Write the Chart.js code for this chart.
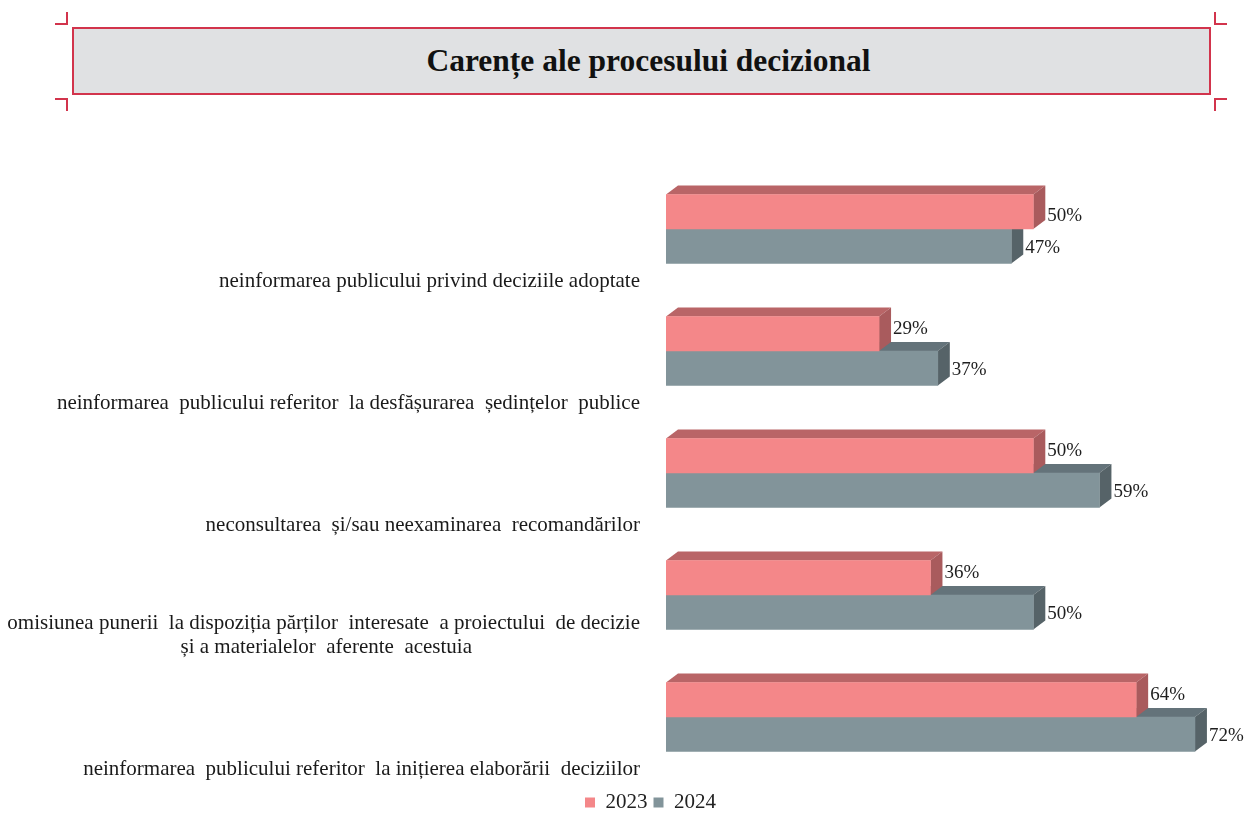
<!DOCTYPE html>
<html>
<head>
	<meta charset="UTF-8" />
	<script src="https://cdn.jsdelivr.net/npm/chart.js@4.4.0/dist/chart.umd.min.js"></script>
	<style>
		body { margin: 0; background: #ffffff; }
		#wrap { position: relative; width: 1246px; height: 836px; }
		#myChart { position: absolute; left: 0; top: 0; }
		#titleBox {
			position: absolute; left: 72px; top: 27px; width: 1139px; height: 68px;
			box-sizing: border-box; background: #e0e1e3; border: 2px solid #d2344c;
			display: flex; align-items: center; justify-content: center; padding-left: 14px;
			font: bold 31.5px "Liberation Serif", serif; color: #111;
		}
		.mark { position: absolute; width: 13px; height: 13px; border: 0 solid #d2344c; box-sizing: border-box; }
	</style>
</head>
<body>
	<div id="wrap">
		<canvas id="myChart" width="1246" height="836"></canvas>
		<div id="titleBox">Carențe ale procesului decizional</div>
		<div class="mark" style="left:55px; top:12px; border-right-width:2px; border-bottom-width:2px;"></div>
		<div class="mark" style="left:55px; top:98px; border-right-width:2px; border-top-width:2px;"></div>
		<div class="mark" style="left:1214px; top:12px; border-left-width:2px; border-bottom-width:2px;"></div>
		<div class="mark" style="left:1214px; top:98px; border-left-width:2px; border-top-width:2px;"></div>
	</div>
	<script>
const categories = [
	"neinformarea publicului privind deciziile adoptate",
	"neinformarea  publicului referitor  la desfășurarea  ședințelor  publice",
	"neconsultarea  și/sau neexaminarea  recomandărilor",
	["omisiunea punerii  la dispoziția părților  interesate  a proiectului  de decizie", "și a materialelor  aferente  acestuia"],
	"neinformarea  publicului referitor  la inițierea elaborării  deciziilor"
];
const seriesNames = ["2023", "2024"];
const values2023 = [50, 29, 50, 36, 64];
const values2024 = [47, 37, 59, 50, 72];

const TICK_FONT = '21px "Liberation Serif"';
const DX = 12, DY = 9;

// centre the second line under the first one (labels are right aligned)
const mctx = document.createElement("canvas").getContext("2d");
mctx.font = TICK_FONT;
const tickLabels = categories.map(c => {
	if (!Array.isArray(c)) return c;
	const gap = (mctx.measureText(c[0]).width - mctx.measureText(c[1]).width) / 2;
	const sp = mctx.measureText(" ").width;
	return [c[0], c[1] + " ".repeat(Math.round(gap / sp)), ""];
});

const bar3d = {
	id: "bar3d",
	afterLayout(chart) {
		// legend sits a little right of the canvas centre in the original
		const lg = chart.legend;
		lg.left += 31; lg.right += 31;
		lg.top += 8; lg.bottom += 8;
	},
	beforeDatasetDraw(chart, args) {
		const ctx = chart.ctx;
		const ds = chart.data.datasets[args.index];
		ctx.save();
		args.meta.data.forEach(el => {
			const { x, y, base, height } = el.getProps(["x", "y", "base", "height"], true);
			const top = y - height / 2, bottom = y + height / 2;
			ctx.fillStyle = ds.topColor;
			ctx.beginPath();
			ctx.moveTo(base, top);
			ctx.lineTo(base + DX, top - DY);
			ctx.lineTo(x + DX, top - DY);
			ctx.lineTo(x, top);
			ctx.closePath();
			ctx.fill();
			ctx.fillStyle = ds.sideColor;
			ctx.beginPath();
			ctx.moveTo(x, top);
			ctx.lineTo(x + DX, top - DY);
			ctx.lineTo(x + DX, bottom - DY);
			ctx.lineTo(x, bottom);
			ctx.closePath();
			ctx.fill();
		});
		ctx.restore();
	},
	afterDatasetsDraw(chart) {
		const ctx = chart.ctx;
		ctx.save();
		ctx.font = '19px "Liberation Serif"';
		ctx.fillStyle = "#1e1e1e";
		ctx.textAlign = "left";
		ctx.textBaseline = "middle";
		const upper = chart.getDatasetMeta(0).data;
		const lower = chart.getDatasetMeta(1).data;
		upper.forEach((el, j) => {
			// lift the label when the bar below sticks out under it
			const dy = lower[j].x > el.x ? -5 : 4;
			ctx.fillText(values2023[j] + "%", el.x + DX + 2, el.y + dy);
		});
		lower.forEach((el, j) => {
			ctx.fillText(values2024[j] + "%", el.x + DX + 2, el.y + 2);
		});
		ctx.restore();
	}
};

new Chart(document.getElementById("myChart").getContext("2d"), {
	type: "bar",
	data: {
		labels: tickLabels,
		datasets: [
			{ label: seriesNames[0], data: values2023, backgroundColor: "#f48789", topColor: "#b96567", sideColor: "#a95b5d", barThickness: 34.5 },
			{ label: seriesNames[1], data: values2024, backgroundColor: "#82949a", topColor: "#64737a", sideColor: "#566368", barThickness: 34.5 }
		]
	},
	options: {
		indexAxis: "y",
		responsive: false,
		animation: false,
		layout: { padding: { top: 168, right: 7, bottom: 21, left: 0 } },
		scales: {
			x: { display: false, min: 0, max: 78 },
			y: {
				grid: { display: false, drawTicks: false },
				border: { display: false },
				afterFit(scale) { scale.width = 666; },
				ticks: {
					padding: 26,
					labelOffset: 52,
					color: "#1a1a1a",
					font: { family: "Liberation Serif", size: 21, lineHeight: 1.1 }
				}
			}
		},
		plugins: {
			tooltip: { enabled: false },
			legend: {
				position: "bottom",
				labels: {
					boxWidth: 10,
					boxHeight: 10,
					padding: 6,
					color: "#222",
					font: { family: "Liberation Serif", size: 21 }
				}
			}
		}
	},
	plugins: [bar3d]
});
	</script>
</body>
</html>
